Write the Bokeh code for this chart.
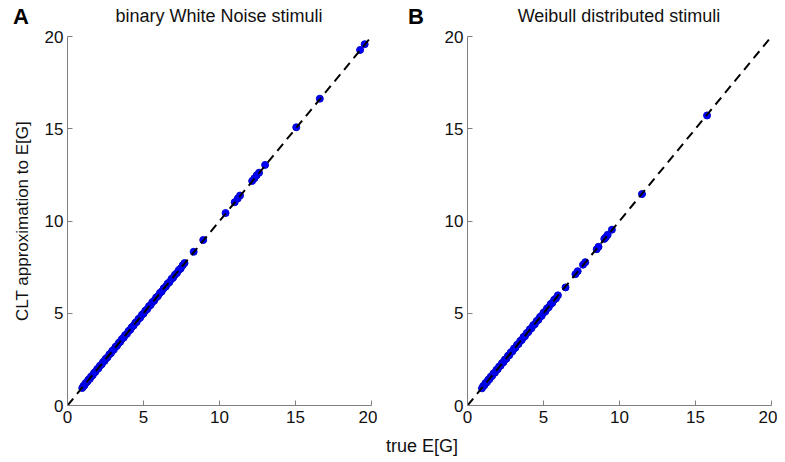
from bokeh.plotting import figure
from bokeh.models import Range1d, Div
from bokeh.layouts import row, column
from bokeh.embed import file_html
from bokeh.resources import INLINE

# ---- data ----
ticks = [0, 5, 10, 15, 20]
diag = [0, 20]
titles = ["binary White Noise stimuli", "Weibull distributed stimuli"]
letters = ["A", "B"]
x_label = "true E[G]"
y_label = "CLT approximation to E[G]"

true_a = [0.97, 1.05, 1.12, 1.2, 1.31, 1.38, 1.47, 1.55, 1.66, 1.74, 1.83, 1.95, 2.04, 2.13, 2.25,
          2.33, 2.44, 2.52, 2.63, 2.75, 2.86, 2.94, 3.05, 3.17, 3.26, 3.38, 3.47, 3.58, 3.7, 3.79,
          3.91, 4.02, 4.13, 4.22, 4.35, 4.46, 4.55, 4.67, 4.78, 4.9, 5.01, 5.12, 5.24, 5.36, 5.47,
          5.58, 5.7, 5.83, 5.95, 6.08, 6.2, 6.33, 6.47, 6.58, 6.7, 6.84, 6.95, 7.07, 7.2, 7.33,
          7.45, 7.58, 7.7, 8.3, 8.93, 10.4, 11.0, 11.2, 11.35, 12.15, 12.3, 12.45, 12.6, 13.0,
          15.05, 16.6, 19.25, 19.55]
clt_a = [0.95, 1.06, 1.1, 1.22, 1.3, 1.4, 1.45, 1.57, 1.64, 1.76, 1.82, 1.97, 2.02, 2.15, 2.23,
         2.35, 2.42, 2.54, 2.61, 2.77, 2.84, 2.96, 3.03, 3.19, 3.24, 3.4, 3.45, 3.6, 3.68, 3.81,
         3.89, 4.04, 4.11, 4.24, 4.33, 4.48, 4.53, 4.69, 4.76, 4.92, 4.99, 5.14, 5.22, 5.38, 5.45,
         5.6, 5.68, 5.85, 5.93, 6.1, 6.18, 6.35, 6.45, 6.6, 6.68, 6.86, 6.93, 7.09, 7.18, 7.35,
         7.43, 7.6, 7.72, 8.33, 8.97, 10.43, 11.02, 11.22, 11.38, 12.17, 12.32, 12.48, 12.62, 13.04,
         15.08, 16.63, 19.27, 19.58]

true_b = [0.95, 1.03, 1.11, 1.19, 1.28, 1.36, 1.45, 1.53, 1.62, 1.71, 1.8, 1.9, 1.99, 2.08, 2.18,
          2.27, 2.37, 2.46, 2.56, 2.66, 2.75, 2.85, 2.96, 3.06, 3.15, 3.26, 3.36, 3.47, 3.57, 3.68,
          3.78, 3.89, 4.0, 4.1, 4.21, 4.32, 4.43, 4.55, 4.66, 4.77, 4.88, 5.0, 5.12, 5.23, 5.35,
          5.47, 5.58, 5.7, 5.82, 5.95, 6.45, 7.1, 7.25, 7.6, 7.75, 8.5, 8.62, 9.0, 9.1, 9.22, 9.5,
          11.48, 15.76]
clt_b = [0.93, 1.05, 1.1, 1.22, 1.26, 1.39, 1.43, 1.56, 1.6, 1.74, 1.78, 1.93, 1.97, 2.11, 2.16,
         2.3, 2.35, 2.49, 2.54, 2.69, 2.73, 2.88, 2.94, 3.09, 3.13, 3.29, 3.34, 3.5, 3.55, 3.71,
         3.76, 3.92, 3.98, 4.13, 4.19, 4.35, 4.41, 4.58, 4.64, 4.8, 4.86, 5.03, 5.1, 5.26, 5.33,
         5.5, 5.56, 5.73, 5.8, 5.97, 6.4, 7.12, 7.28, 7.63, 7.77, 8.47, 8.6, 9.03, 9.12, 9.25, 9.53,
         11.46, 15.72]

FONT = "Liberation Sans"
AXIS_GREY = "#808080"
TXT = "#111111"
HEADER_H = 26


def header(letter, title, width, frame_left, letter_left):
    html = (
        f'<div style="position:relative;width:{width}px;height:{HEADER_H}px;'
        f'font-family:\'{FONT}\';color:{TXT};">'
        f'<span style="position:absolute;left:{letter_left}px;top:4px;font-size:22px;'
        f'font-weight:bold;line-height:25px;color:#000;">{letter}</span>'
        f'<span style="position:absolute;left:{frame_left}px;width:304px;top:6px;'
        f'text-align:center;font-size:18px;line-height:21px;">{title}</span></div>'
    )
    return Div(text=html, width=width, height=HEADER_H, margin=(0, 0, 0, 0))


def make_panel(xs, ys, width, left, right, ylabel):
    p = figure(width=width, height=404, output_backend="svg", toolbar_location=None,
               x_range=Range1d(0, 20), y_range=Range1d(0, 20),
               min_border_left=left, min_border_right=right,
               min_border_top=10, min_border_bottom=25)
    p.outline_line_color = None
    p.grid.grid_line_color = None
    for ax in (p.xaxis[0], p.yaxis[0]):
        ax.ticker = ticks
        ax.axis_line_color = AXIS_GREY
        ax.major_tick_line_color = AXIS_GREY
        ax.major_tick_in = 5
        ax.major_tick_out = 0
        ax.minor_tick_line_color = None
        ax.major_label_text_font = FONT
        ax.major_label_text_font_size = "17px"
        ax.major_label_text_color = TXT
    p.xaxis.major_label_standoff = 5
    p.yaxis.major_label_standoff = 4
    if ylabel:
        p.yaxis.axis_label = ylabel
        p.yaxis.axis_label_text_font = FONT
        p.yaxis.axis_label_text_font_size = "17px"
        p.yaxis.axis_label_text_font_style = "normal"
        p.yaxis.axis_label_text_color = TXT
        p.yaxis.axis_label_standoff = 10
    p.scatter(xs, ys, size=7, color="#0000ff", line_color="#0000cc")
    p.line(diag, diag, line_color="black", line_width=2, line_dash="9 6")
    return p


pa = make_panel(true_a, clt_a, 377, 67, 6, y_label)
pb = make_panel(true_b, clt_b, 400, 90, 6, None)

ha = header(letters[0], titles[0], 377, 67, 13)
hb = header(letters[1], titles[1], 400, 90, 31)

footer = Div(
    text=(f'<div style="position:relative;width:777px;height:30px;font-family:\'{FONT}\';'
          f'color:{TXT};"><span style="position:absolute;left:386px;top:6px;font-size:18px;'
          f'line-height:20px;">{x_label}</span></div>'),
    width=777, height=30, margin=(0, 0, 0, 0))

layout = column(row(ha, hb), row(pa, pb), footer)
open("out.html", "w").write(file_html(layout, INLINE))
